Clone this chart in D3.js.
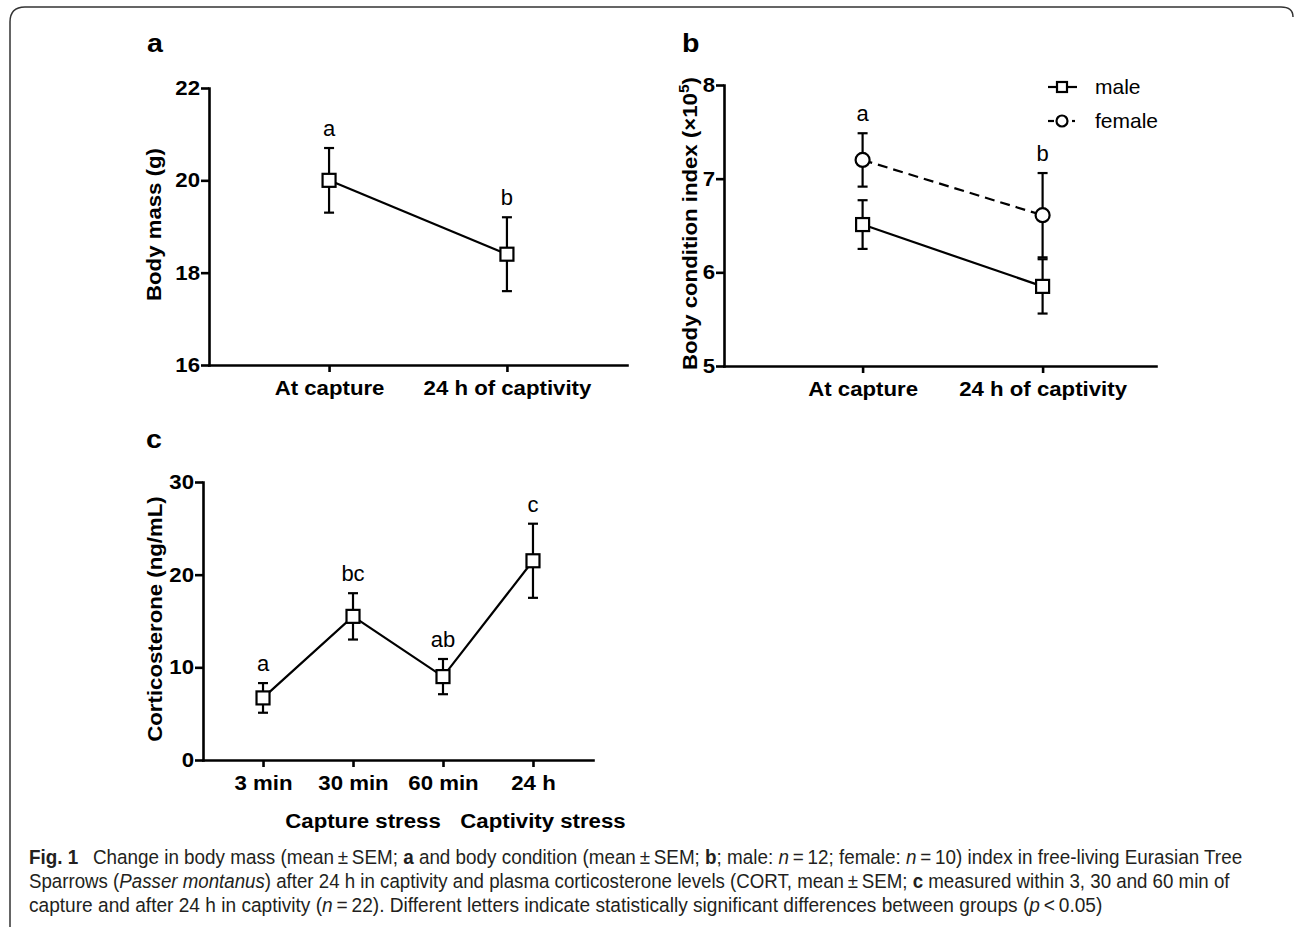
<!DOCTYPE html>
<html>
<head>
<meta charset="utf-8">
<script src="https://cdn.jsdelivr.net/npm/d3@7"></script>
<style>
  body { margin: 0; background: #fff; }
</style>
</head>
<body>
<div id="fig"></div>
<script>
// panel a - body mass
var massCats = ["At capture", "24 h of captivity"];
var massMean = [20.0, 18.4];
var massSem = [0.7, 0.8];
var massLetters = ["a", "b"];
var massTicks = [16, 18, 20, 22];

// panel b - body condition index
var bciCats = ["At capture", "24 h of captivity"];
var maleMean = [6.51, 5.85];
var maleSem = [0.26, 0.29];
var femaleMean = [7.2, 6.61];
var femaleSem = [0.285, 0.45];
var bciLetters = ["a", "b"];
var bciTicks = [5, 6, 7, 8];
var legendNames = ["male", "female"];

// panel c - corticosterone
var cortCats = ["3 min", "30 min", "60 min", "24 h"];
var cortMean = [6.7, 15.5, 9.0, 21.5];
var cortSem = [1.6, 2.5, 1.9, 4.0];
var cortLetters = ["a", "bc", "ab", "c"];
var cortTicks = [0, 10, 20, 30];
var stressGroups = [
  {name: "Capture stress", cats: ["3 min", "30 min", "60 min"]},
  {name: "Captivity stress", cats: ["24 h"]}
];

var captionLines = [
  [["b", "Fig. 1"], ["r", "\u2002 Change in body mass (mean\u2009\u00b1\u2009SEM; "], ["b", "a"], ["r", " and body condition (mean\u2009\u00b1\u2009SEM; "], ["b", "b"], ["r", "; male: "], ["i", "n"], ["r", "\u2009=\u200912; female: "], ["i", "n"], ["r", "\u2009=\u200910) index in free-living Eurasian Tree"]],
  [["r", "Sparrows ("], ["i", "Passer montanus"], ["r", ") after 24 h in captivity and plasma corticosterone levels (CORT, mean\u2009\u00b1\u2009SEM; "], ["b", "c"], ["r", " measured within 3, 30 and 60 min of"]],
  [["r", "capture and after 24 h in captivity ("], ["i", "n"], ["r", "\u2009=\u200922). Different letters indicate statistically significant differences between groups ("], ["i", "p"], ["r", "\u2009<\u20090.05)"]]
];

var width = 1295,
    height = 927;

var svg = d3.select("#fig").append("svg")
    .attr("width", width)
    .attr("height", height)
    .style("font-family", "'Liberation Sans', Arial, sans-serif");

// glyphs in the figure are a bit wider than Arial
function stretch(sel, k) {
  sel.each(function() {
    var w = this.getComputedTextLength();
    d3.select(this).attr("textLength", w * k).attr("lengthAdjust", "spacingAndGlyphs");
  });
}

function drawAxes(g, x, y, ticks, labOffset, yLabel) {
  var r = x.range(), yr = y.range();
  var ya = g.append("g")
      .attr("transform", "translate(" + r[0] + ",0)")
      .call(d3.axisLeft(y).tickValues(ticks).tickFormat(d3.format("d"))
        .tickSize(8).tickSizeOuter(0).tickPadding(1));
  var xa = g.append("g")
      .attr("transform", "translate(0," + yr[0] + ")")
      .call(d3.axisBottom(x).tickSize(7).tickSizeOuter(0));
  [ya, xa].forEach(function(a) {
    a.select(".domain").attr("stroke-width", 2.6).attr("stroke-linecap", "square");
    a.selectAll(".tick line").attr("stroke-width", 2.6);
    a.selectAll("text")
        .attr("font-family", "'Liberation Sans', Arial, sans-serif")
        .attr("font-size", 20).attr("font-weight", "bold").attr("fill", "#000");
  });
  xa.selectAll(".tick text").attr("y", 30).attr("dy", null);
  stretch(ya.selectAll("text"), 1.11);
  stretch(xa.selectAll("text"), 1.11);

  var lab = g.append("text")
      .attr("transform", "translate(" + (r[0] - labOffset) + "," + ((yr[0] + yr[1]) / 2 - 2) + ") rotate(-90)")
      .attr("text-anchor", "middle")
      .attr("font-size", 20).attr("font-weight", "bold");
  yLabel(lab);
  stretch(lab, 1.11);
}

function panelLetter(txt, x, y) {
  var t = svg.append("text").attr("x", x).attr("y", y)
      .attr("font-size", 26).attr("font-weight", "bold").text(txt);
  stretch(t, 1.1);
}

function series(g, x, y, cats, mean, sem, opt) {
  var pts = cats.map(function(c, i) { return {c: c, m: mean[i], s: sem[i]}; });
  g.append("path")
      .datum(pts)
      .attr("fill", "none").attr("stroke", "#000").attr("stroke-width", 2.2)
      .attr("stroke-dasharray", opt.dash || null)
      .attr("d", d3.line().x(function(d) { return x(d.c); }).y(function(d) { return y(d.m); }));
  var eb = g.append("g").selectAll("g").data(pts).enter().append("g")
      .attr("stroke", "#000").attr("stroke-width", 2.2);
  eb.append("line")
      .attr("x1", function(d) { return x(d.c); }).attr("x2", function(d) { return x(d.c); })
      .attr("y1", function(d) { return y(d.m + d.s); }).attr("y2", function(d) { return y(d.m - d.s); });
  eb.append("line")
      .attr("x1", function(d) { return x(d.c) - 5; }).attr("x2", function(d) { return x(d.c) + 5; })
      .attr("y1", function(d) { return y(d.m + d.s); }).attr("y2", function(d) { return y(d.m + d.s); });
  eb.append("line")
      .attr("x1", function(d) { return x(d.c) - 5; }).attr("x2", function(d) { return x(d.c) + 5; })
      .attr("y1", function(d) { return y(d.m - d.s); }).attr("y2", function(d) { return y(d.m - d.s); });
  if (opt.shape == "circle") {
    g.append("g").selectAll("circle").data(pts).enter().append("circle")
        .attr("cx", function(d) { return x(d.c); }).attr("cy", function(d) { return y(d.m); })
        .attr("r", 7).attr("fill", "#fff").attr("stroke", "#000").attr("stroke-width", 2.2);
  } else {
    g.append("g").selectAll("rect").data(pts).enter().append("rect")
        .attr("x", function(d) { return x(d.c) - 6.5; }).attr("y", function(d) { return y(d.m) - 6.5; })
        .attr("width", 13).attr("height", 13)
        .attr("fill", "#fff").attr("stroke", "#000").attr("stroke-width", 2.2);
  }
  if (opt.letters) {
    g.append("g").selectAll("text").data(pts).enter().append("text")
        .attr("x", function(d) { return x(d.c); })
        .attr("y", function(d) { return y(d.m + d.s) - 12; })
        .attr("text-anchor", "middle").attr("font-size", 22)
        .text(function(d, i) { return opt.letters[i]; });
  }
}

// ---- panel a
var ga = svg.append("g");
var xa = d3.scalePoint().domain(massCats).range([209, 627]).padding(0.675);
var ya = d3.scaleLinear().domain([16, 22]).range([365, 88]);
drawAxes(ga, xa, ya, massTicks, 48, function(t) { t.text("Body mass (g)"); });
series(ga, xa, ya, massCats, massMean, massSem, {letters: massLetters});
panelLetter("a", 147, 52);

// ---- panel b
var gb = svg.append("g");
var xb = d3.scalePoint().domain(bciCats).range([724, 1156]).padding(0.7).align(0.55);
var yb = d3.scaleLinear().domain([5, 8]).range([366, 85]);
drawAxes(gb, xb, yb, bciTicks, 27, function(t) {
  t.append("tspan").text("Body condition index (\u00d710");
  t.append("tspan").attr("dy", -8).attr("font-size", 14).text("5");
  t.append("tspan").attr("dy", 8).text(")");
});
series(gb, xb, yb, bciCats, femaleMean, femaleSem, {shape: "circle", dash: "10,6", letters: bciLetters});
series(gb, xb, yb, bciCats, maleMean, maleSem, {});
panelLetter("b", 682, 52);

// legend
var leg = gb.append("g").attr("transform", "translate(1048,87)");
var lm = leg.append("g");
lm.append("line").attr("x1", 0).attr("x2", 29).attr("stroke", "#000").attr("stroke-width", 2.2);
lm.append("rect").attr("x", 9).attr("y", -5).attr("width", 10).attr("height", 10)
    .attr("fill", "#fff").attr("stroke", "#000").attr("stroke-width", 2.2);
var lf = leg.append("g").attr("transform", "translate(0,34)");
lf.append("line").attr("x1", 0).attr("x2", 6).attr("stroke", "#000").attr("stroke-width", 2.2);
lf.append("line").attr("x1", 24).attr("x2", 27).attr("stroke", "#000").attr("stroke-width", 2.2);
lf.append("circle").attr("cx", 14).attr("r", 5.5)
    .attr("fill", "#fff").attr("stroke", "#000").attr("stroke-width", 2.2);
leg.selectAll("text.lg").data(legendNames).enter().append("text")
    .attr("class", "lg")
    .attr("x", 47).attr("y", function(d, i) { return 7 + i * 34; })
    .attr("font-size", 21).text(function(d) { return d; });

// ---- panel c
var gc = svg.append("g");
var xc = d3.scalePoint().domain(cortCats).range([203, 593]).padding(0.667);
var yc = d3.scaleLinear().domain([0, 30]).range([760, 482]);
drawAxes(gc, xc, yc, cortTicks, 41, function(t) { t.text("Corticosterone (ng/mL)"); });
series(gc, xc, yc, cortCats, cortMean, cortSem, {letters: cortLetters});
panelLetter("c", 146, 448);

var grp = gc.selectAll("text.grp").data(stressGroups).enter().append("text")
    .attr("class", "grp")
    .attr("x", function(d) { return d3.mean(d.cats, function(c) { return xc(c); }) + 10; })
    .attr("y", 828)
    .attr("text-anchor", "middle").attr("font-size", 20).attr("font-weight", "bold")
    .text(function(d) { return d.name; });
stretch(grp, 1.11);

// ---- frame and caption
svg.append("path")
    .attr("d", "M10,927V22Q10,7 25,7H1281Q1293,7 1293,17")
    .attr("fill", "none").attr("stroke", "#333").attr("stroke-width", 1.5);

// caption is set in a condensed face: squeeze each line horizontally
var lineWidths = [1214, 1201, 1074];
captionLines.forEach(function(parts, li) {
  var t = svg.append("text")
      .attr("x", 0).attr("y", 0)
      .attr("font-family", "'Liberation Sans', Arial, sans-serif")
      .attr("font-size", 19.5).attr("fill", "#231f20");
  parts.forEach(function(p) {
    t.append("tspan")
        .attr("font-weight", p[0] == "b" ? "bold" : null)
        .attr("font-style", p[0] == "i" ? "italic" : null)
        .text(p[1]);
  });
  var w = t.node().getComputedTextLength();
  t.attr("transform", "translate(29," + (864 + li * 24) + ") scale(" + (lineWidths[li] / w) + ",1)");
});
</script>
</body>
</html>
